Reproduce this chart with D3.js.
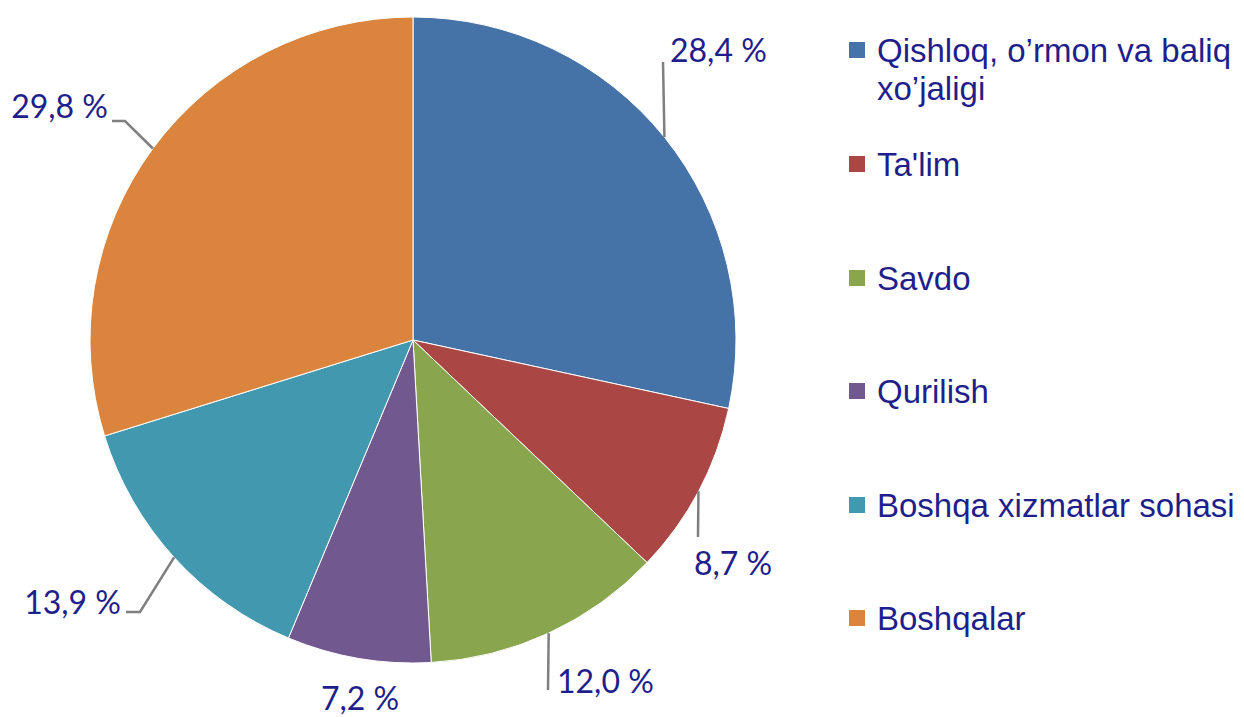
<!DOCTYPE html>
<html>
<head>
<meta charset="utf-8">
<script src="https://cdn.jsdelivr.net/npm/d3@7"></script>
<style>
  body { margin: 0; background: #fff; }
  svg { display: block; }
</style>
</head>
<body>
<div id="chart"></div>
<script>
// data
const categories = ["Qishloq, o\u2019rmon va baliq xo\u2019jaligi", "Ta'lim", "Savdo", "Qurilish", "Boshqa xizmatlar sohasi", "Boshqalar"];
const legendLines = [["Qishloq, o\u2019rmon va baliq", "xo\u2019jaligi"], ["Ta'lim"], ["Savdo"], ["Qurilish"], ["Boshqa xizmatlar sohasi"], ["Boshqalar"]];
const values = [28.4, 8.7, 12.0, 7.2, 13.9, 29.8];
const colors = ["#4572A7", "#AA4643", "#89A54E", "#71588F", "#4198AF", "#DB843D"];

const width = 1244, height = 717;
const cx = 413, cy = 340, radius = 323;

// label layout: [text x, text y, anchor] and leader line bend points (absolute)
const labelPos = [
  [670, 62, "start"],
  [733, 575, "middle"],
  [557, 693, "start"],
  [360, 710, "middle"],
  [121, 614, "end"],
  [108, 118, "end"]
];
const leaderEnds = [
  [[663, 62]],
  [[698, 537]],
  [[548, 690]],
  null,
  [[140, 612], [126, 612]],
  [[125, 121], [112, 121]]
];

const svg = d3.select("#chart").append("svg")
  .attr("width", width)
  .attr("height", height);

const g = svg.append("g").attr("transform", "translate(" + cx + "," + cy + ")");

const color = d3.scaleOrdinal(categories, colors);

const pie = d3.pie().sort(null).value(d => d);
const arc = d3.arc().innerRadius(0).outerRadius(radius);
const arcs = pie(values);

g.selectAll("path.slice")
  .data(arcs)
  .enter()
  .append("path")
  .attr("class", "slice")
  .attr("fill", (d, i) => color(categories[i]))
  .attr("stroke", "#fff")
  .attr("stroke-width", 1)
  .attr("d", arc);

// leader lines start on the arc at the slice mid angle
const edge = d3.arc().innerRadius(radius).outerRadius(radius);
const line = d3.line();
arcs.forEach(function(d, i) {
  if (!leaderEnds[i]) return;
  const c = edge.centroid(d);
  const pts = [[cx + c[0], cy + c[1]]].concat(leaderEnds[i]);
  svg.append("path")
    .attr("d", line(pts))
    .attr("fill", "none")
    .attr("stroke", "#7f7f7f")
    .attr("stroke-width", 2.5);
});

const fmt = v => d3.format(".1f")(v).replace(".", ",") + " %";

svg.selectAll("text.val")
  .data(values)
  .enter()
  .append("text")
  .attr("class", "val")
  .attr("x", (d, i) => labelPos[i][0])
  .attr("y", (d, i) => labelPos[i][1])
  .attr("text-anchor", (d, i) => labelPos[i][2])
  .style("font-family", "Lato, 'Open Sans', sans-serif")
  .style("font-size", "32px")
  .style("fill", "#1f1f8c")
  .text(d => fmt(d));

// legend
const rowY = [62, 176, 290, 403, 517, 630];
const legend = svg.selectAll("g.leg")
  .data(categories)
  .enter()
  .append("g")
  .attr("class", "leg")
  .attr("transform", (d, i) => "translate(849," + rowY[i] + ")");

legend.append("rect")
  .attr("x", 0)
  .attr("y", -20)
  .attr("width", 16)
  .attr("height", 16)
  .attr("fill", d => color(d));

legend.append("text")
  .attr("x", 28)
  .attr("y", 0)
  .style("font-family", "'Liberation Sans', Arial, sans-serif")
  .style("font-size", "33px")
  .style("fill", "#1f1f8c")
  .selectAll("tspan")
  .data((d, i) => legendLines[i])
  .enter()
  .append("tspan")
  .attr("x", 28)
  .attr("dy", (d, j) => j === 0 ? 0 : 38)
  .text(d => d);
</script>
</body>
</html>
